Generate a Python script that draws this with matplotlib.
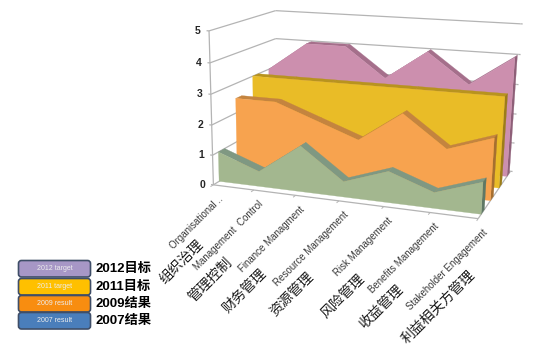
import numpy as np
import matplotlib
matplotlib.use('Agg')
import matplotlib.pyplot as plt
from matplotlib.patches import FancyBboxPatch

categories = ['Organisational ..', 'Management  Control', 'Finance Managment', 'Resource Management',
              'Risk Management', 'Benefits Management', 'Stakeholder Engagement']
categories_cn = ['组织治理', '管理控制', '财务管理', '资源管理', '风险管理', '收益管理', '利益相关方管理']
y_ticks = [0, 1, 2, 3, 4, 5]

target_2012 = [3, 4, 4, 3, 4, 3, 4]
target_2011 = [3, 3, 3, 3, 3, 3, 3]
result_2009 = [2.5, 2.5, 2, 1.5, 2.5, 1.5, 2]
result_2007 = [1, 0.5, 1.5, 0.5, 1, 0.5, 1]

legend_inner = ['2012 target', '2011 target', '2009 result', '2007 result']
legend_outer = ['2012目标', '2011目标', '2009结果', '2007结果']
legend_colors = ['#A797C6', '#FFC000', '#F88D10', '#4A7EBB']

# back to front: values, face, top ribbon, side
series = [(target_2012, '#CC8FAE', '#A56F8B', '#8E5F78'),
          (target_2011, '#E9BC27', '#B8931E', '#9C7D18'),
          (result_2009, '#F7A34F', '#C4843F', '#A66F30'),
          (result_2007, '#A3B78F', '#7F9882', '#5F7865')]

# where the chart box sits in the picture: (category, depth, value) -> pixel
box_model = np.array([[0, 0, 0], [0, 0, 4], [0, 0, 5], [0, 1, 0], [0, 1, 4], [0, 1, 5],
                      [6, 0, 0], [6, 1, 0], [6, 1, 4], [6, 1, 5]], float)
box_px = np.array([[213.3, 183.3], [210, 63.3], [207.3, 33.3], [276, 146.7], [276.7, 37.3], [276.7, 10],
                   [480, 217.3], [509.3, 173.3], [518.3, 53.3], [520, 24]])

A = []
for (a, b, c), (px, py) in zip(box_model, box_px):
    A.append([a, b, c, 1, 0, 0, 0, 0, -px*a, -px*b, -px*c, -px])
    A.append([0, 0, 0, 0, a, b, c, 1, -py*a, -py*b, -py*c, -py])
P = np.linalg.svd(np.array(A))[2][-1].reshape(3, 4)


def proj(c, d, v):
    q = P @ np.array([c, d, v, 1.0])
    return q[0]/q[2], q[1]/q[2]


fig = plt.figure(figsize=(5.46, 3.57), dpi=100)
ax = fig.add_axes([0, 0, 1, 1])
ax.set_xlim(0, 546)
ax.set_ylim(357, 0)
ax.axis('off')

grid = '#B4B4B4'


def line3d(p, q, color=grid, lw=0.9):
    a, b = proj(*p), proj(*q)
    ax.plot([a[0], b[0]], [a[1], b[1]], color=color, lw=lw, solid_capstyle='butt', zorder=1)


def poly3d(pts, color, z):
    xy = np.array([proj(*p) for p in pts])
    ax.fill(xy[:, 0], xy[:, 1], color=color, lw=0.2, zorder=z)


# walls and floor
for v in y_ticks:
    line3d((0, 0, v), (0, 1, v))
    line3d((0, 1, v), (6, 1, v))
    line3d((6, 1, v), (6.05, 1, v))
    line3d((0, 0, v), (-0.06, 0, v))
line3d((0, 0, 0), (0, 0, 5))
line3d((0, 0, 0), (6, 0, 0))
line3d((6, 0, 0), (6, 1, 0))
for i in range(7):
    line3d((i, 0, 0), (i, -0.04, 0), lw=0.7)

# the areas
n = len(categories)
for k, (vals, face, top, side) in enumerate(series):
    d0 = 0.875 - 0.265*k
    d1 = d0 + 0.09
    z = 2 + k
    for i in range(n - 1):
        poly3d([(i, d0, vals[i]), (i + 1, d0, vals[i + 1]), (i + 1, d1, vals[i + 1]), (i, d1, vals[i])], top, z)
    poly3d([(n - 1, d0, 0), (n - 1, d0, vals[-1]), (n - 1, d1, vals[-1]), (n - 1, d1, 0)], side, z)
    poly3d([(i, d0, vals[i]) for i in range(n)] + [(n - 1, d0, 0), (0, d0, 0)], face, z + 0.5)

# tick labels
for v in y_ticks:
    x, y = proj(0, 0, v)
    ax.text(x - 11, y, str(v), ha='center', va='center', fontsize=7.5, fontweight='bold',
            family='Liberation Sans', color='#262626')

cn_pos = [(182, 262), (210, 280), (245, 291), (292, 295), (343, 297), (381, 307), (438, 307)]
for i, name in enumerate(categories):
    x, y = proj(i, 0, 0)
    ax.text(x + 4, y + 9, name, rotation=45, rotation_mode='anchor', ha='right', va='top',
            fontsize=7, family='Liberation Sans', color='#3A3A3A')
    ax.text(cn_pos[i][0], cn_pos[i][1], categories_cn[i], rotation=45, rotation_mode='anchor',
            ha='center', va='center', fontsize=10, family='Noto Sans CJK SC', color='#1A1A1A')

# legend, hand made boxes like the slide
rows = [260, 278, 295, 312]
for y, c, t, o in zip(rows, legend_colors, legend_inner, legend_outer):
    ax.add_patch(FancyBboxPatch((18.5, y + 0.5), 72, 16.5, boxstyle='round,pad=0,rounding_size=3',
                                fc=c, ec='#3F4E68', lw=1.2))
    ax.text(55, y + 8.5, t, ha='center', va='center', fontsize=5, color='#EDEDED', family='Liberation Sans')
    ax.text(96, y + 9, o, ha='left', va='center', fontsize=9.5, fontweight='bold',
            family=['Liberation Sans', 'Noto Sans CJK SC'], color='black')

fig.savefig('out.png', dpi=100)
